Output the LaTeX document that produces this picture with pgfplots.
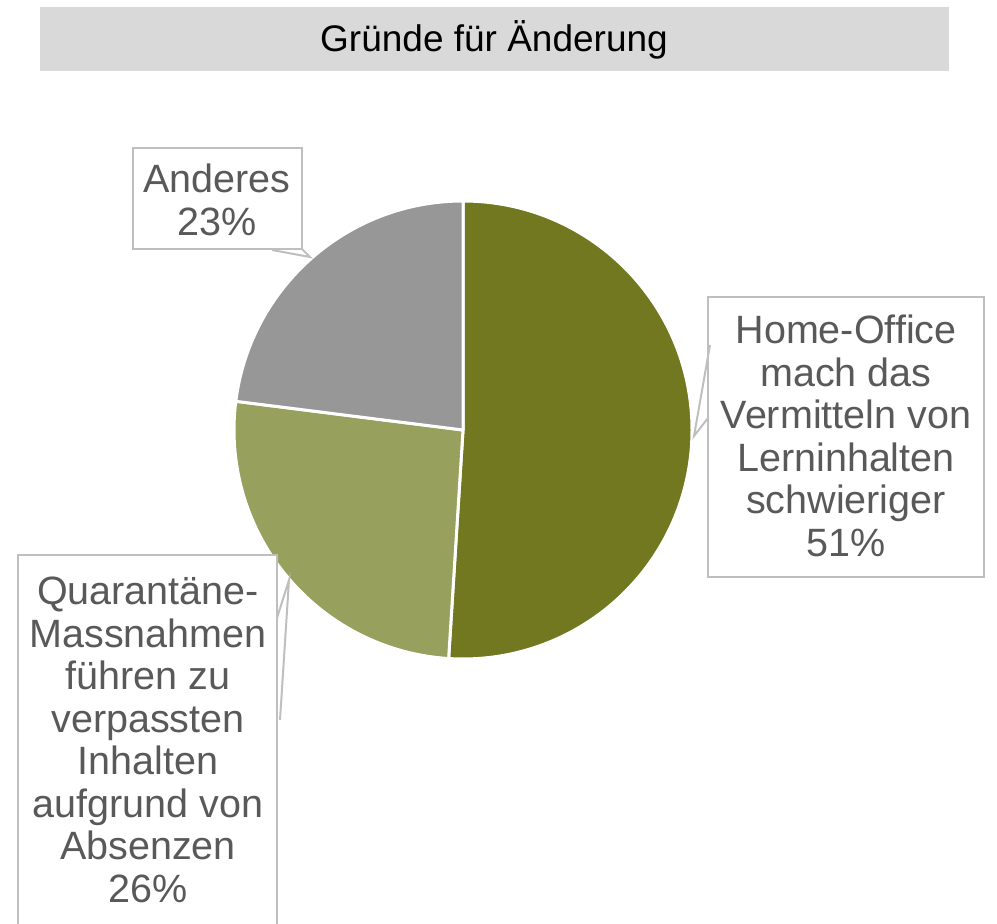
\documentclass[border=0pt]{standalone}
\usepackage{pgfplots}
\usepackage{pgfplotstable}
\pgfplotsset{compat=1.18}
\usepackage{fontspec}
\setmainfont{Liberation Sans}
\definecolor{darkolive}{HTML}{717820}
\definecolor{lightolive}{HTML}{98A05D}
\definecolor{piegray}{HTML}{979797}
\definecolor{titlebg}{HTML}{D9D9D9}
\definecolor{boxline}{HTML}{BFBFBF}
\definecolor{labeltext}{HTML}{595959}
\pgfplotstableread{
label value
HomeOffice 51
Quarantaene 26
Anderes 23
}\piedata
\begin{document}
\begin{tikzpicture}
\pgfplotstablegetelem{0}{value}\of\piedata \pgfmathsetmacro\va{\pgfplotsretval}
\pgfplotstablegetelem{1}{value}\of\piedata \pgfmathsetmacro\vb{\pgfplotsretval}
\pgfplotstablegetelem{2}{value}\of\piedata \pgfmathsetmacro\vc{\pgfplotsretval}
\pgfmathsetmacro\aA{90-3.6*\va}
\pgfmathsetmacro\aB{\aA-3.6*\vb}
\pgfmathsetmacro\aC{\aB-3.6*\vc}
\begin{axis}[hide axis, scale only axis, width=997pt, height=924pt,
  xmin=0, xmax=997, ymin=0, ymax=924, y dir=reverse, clip=false]
% title bar
\fill[titlebg] (axis cs:40,7) rectangle (axis cs:949,71);
\node[font=\fontsize{37}{42}\selectfont, text=black] at (axis cs:494,40) {Gründe für Änderung};
% pie slices
\filldraw[fill=darkolive, draw=white, line width=3pt, line join=round]
  (axis cs:463,430) -- +(90:229pt) arc[start angle=90, end angle=\aA, radius=229pt] -- cycle;
\filldraw[fill=lightolive, draw=white, line width=3pt, line join=round]
  (axis cs:463,430) -- +(\aA:229pt) arc[start angle=\aA, end angle=\aB, radius=229pt] -- cycle;
\filldraw[fill=piegray, draw=white, line width=3pt, line join=round]
  (axis cs:463,430) -- +(\aB:229pt) arc[start angle=\aB, end angle=\aC, radius=229pt] -- cycle;
% label boxes
\filldraw[fill=white, draw=boxline, line width=2.5pt] (axis cs:133,148) rectangle (axis cs:302,249);
\draw[boxline, line width=2pt] (axis cs:272,250) -- (axis cs:310,257) -- (axis cs:302,249);
\filldraw[fill=white, draw=boxline, line width=2.5pt] (axis cs:708,297) rectangle (axis cs:984,577);
\draw[boxline, line width=2pt] (axis cs:710,345) -- (axis cs:694,436) -- (axis cs:708,418);
\fill[white] (axis cs:18,555) rectangle (axis cs:277,924);
\draw[boxline, line width=2.5pt] (axis cs:18,924) -- (axis cs:18,555) -- (axis cs:277,555) -- (axis cs:277,924);
\draw[boxline, line width=2pt] (axis cs:277,618) -- (axis cs:289,580) -- (axis cs:280,720);
% label texts
\node[font=\fontsize{39.5}{42.5}\selectfont, text=labeltext, align=center] at (axis cs:217,200) {Anderes\\23\%};
\node[font=\fontsize{39.5}{42.5}\selectfont, text=labeltext, align=center] at (axis cs:846,436) {Home-Office\\mach das\\Vermitteln von\\Lerninhalten\\schwieriger\\51\%};
\node[font=\fontsize{39.5}{42.5}\selectfont, text=labeltext, align=center] at (axis cs:148,740) {Quarantäne-\\Massnahmen\\führen zu\\verpassten\\Inhalten\\aufgrund von\\Absenzen\\26\%};
\end{axis}
\pgfresetboundingbox
\path (0,0) rectangle (997pt,924pt);
\end{tikzpicture}
\end{document}
